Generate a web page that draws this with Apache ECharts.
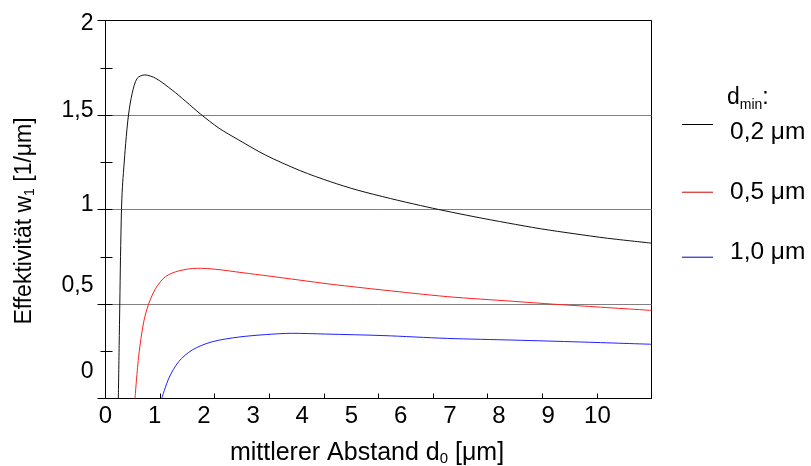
<!DOCTYPE html>
<html>
<head>
<meta charset="utf-8">
<script src="https://cdn.jsdelivr.net/npm/echarts@6/dist/echarts.min.js"></script>
<style>
html,body{margin:0;padding:0;background:#fff;}
#c{width:811px;height:466px;}
</style>
</head>
<body>
<div id="c"></div>
<script>
// ---- data ----
const blackX = [0.235, 0.25, 0.262, 0.275, 0.293, 0.31, 0.335, 0.37, 0.421, 0.489, 0.58, 0.72, 0.92, 1.22, 1.47, 1.74, 2.08, 2.44, 2.93, 3.57, 4.12, 4.61, 5.22, 5.77, 6.2, 6.75, 7.36, 7.97, 8.58, 9.19, 10.0];
const blackY = [0, 0.28, 0.5, 0.75, 1.0, 1.12, 1.22, 1.35, 1.5, 1.615, 1.694, 1.712, 1.694, 1.632, 1.572, 1.505, 1.43, 1.368, 1.288, 1.205, 1.147, 1.103, 1.058, 1.021, 0.994, 0.962, 0.929, 0.898, 0.872, 0.848, 0.822];
const redX = [0.54, 0.61, 0.70, 0.79, 0.92, 1.10, 1.34, 1.68, 2.01, 2.50, 2.99, 3.54, 4.15, 5.08, 6.26, 7.48, 8.21, 8.70, 10.0];
const redY = [0, 0.23, 0.406, 0.5, 0.583, 0.645, 0.675, 0.689, 0.684, 0.666, 0.648, 0.627, 0.604, 0.574, 0.539, 0.514, 0.499, 0.490, 0.466];
const blueX = [1.03, 1.16, 1.34, 1.59, 1.95, 2.44, 2.93, 3.42, 4.03, 5.08, 6.26, 7.48, 8.70, 10.0];
const blueY = [0, 0.107, 0.195, 0.257, 0.30, 0.325, 0.338, 0.345, 0.341, 0.333, 0.318, 0.309, 0.299, 0.287];
const seriesNames = ['0,2 μm', '0,5 μm', '1,0 μm'];
const xTickLabels = ['0','1','2','3','4','5','6','7','8','9','10'];
const yTickLabels = {0: '0', 0.5: '0,5', 1: '1', 1.5: '1,5', 2: '2'};
const xAxisTitle = 'mittlerer Abstand d{sub|0} [μm]';
const yAxisTitle = 'Effektivität w{sub|1} [1/μm]{gap| }';
const legendTitle = '{a|d}{s|min}{a|:}';

const zip = (xs, ys) => xs.map((x, i) => [x, ys[i]]);
const FONT = 'Liberation Sans, Arial, sans-serif';
const FS = 23;
const FL = 24.5;

// per-label vertical shifts (px, + = up) to mimic the reference's label placement
const yShift = {0: 27, 0.5: 18, 1: 5, 1.5: 4, 2: -3.5};
const yRich = {};
Object.keys(yShift).forEach((k, i) => {
  const d = yShift[k];
  yRich['y' + i] = {
    fontSize: FS, fontFamily: FONT, color: '#000',
    padding: d >= 0 ? [0, 0, 2 * d, 0] : [-2 * d, 0, 0, 0]
  };
});
const yKeys = Object.keys(yShift);

const chart = echarts.init(document.getElementById('c'), null, {renderer: 'canvas'});
const legendCommon = {
  orient: 'vertical', left: 682, padding: 0,
  icon: 'rect', itemWidth: 31, itemHeight: 1,
  selectedMode: false
};
chart.setOption({
  animation: false,
  backgroundColor: '#fff',
  title: {
    text: legendTitle, left: 727, top: 84, padding: 0,
    textStyle: {
      fontWeight: 'normal',
      rich: {
        a: {fontSize: FS, fontFamily: FONT, color: '#000', fontWeight: 'normal', lineHeight: 26},
        s: {fontSize: 14, fontFamily: FONT, color: '#000', fontWeight: 'normal', padding: [14, 0, 0, 0]}
      }
    }
  },
  legend: [
    Object.assign({}, legendCommon, {
      top: 104.5, data: [{name: seriesNames[0], itemStyle: {color: '#000'}}],
      formatter: '{t|{name}}',
      textStyle: {rich: {t: {fontSize: FL, fontFamily: FONT, color: '#000', lineHeight: 24, padding: [15, 0, 0, 12]}}}
    }),
    Object.assign({}, legendCommon, {
      top: 179.7, data: [{name: seriesNames[1], itemStyle: {color: '#d00000'}}],
      formatter: '{t|{name}}',
      textStyle: {rich: {t: {fontSize: FL, fontFamily: FONT, color: '#000', lineHeight: 24, padding: [0, 0, 0, 12]}}}
    }),
    Object.assign({}, legendCommon, {
      top: 239.7, data: [{name: seriesNames[2], itemStyle: {color: '#0000c0'}}],
      formatter: '{t|{name}}',
      textStyle: {rich: {t: {fontSize: FL, fontFamily: FONT, color: '#000', lineHeight: 24, padding: [0, 0, 10, 12]}}}
    })
  ],
  grid: {
    left: 105.5, top: 20.5, width: 546, height: 378,
    containLabel: false, outerBoundsMode: 'none',
    show: true, borderColor: '#000', borderWidth: 1, backgroundColor: 'transparent'
  },
  xAxis: [
    {
      type: 'value', min: 0, max: 10, interval: 1,
      axisLine: {show: true, lineStyle: {color: '#000', width: 1}},
      axisTick: {show: true, inside: true, length: 5, lineStyle: {color: '#000'}},
      axisLabel: {show: false},
      splitLine: {show: false},
      name: xAxisTitle, nameLocation: 'middle', nameGap: 41,
      nameTextStyle: {
        padding: [0, 23, 0, 0],
        rich: {sub: {fontSize: 15, fontFamily: FONT, color: '#000', padding: [12, 0, 0, 0]}},
        fontSize: 25, fontFamily: FONT, color: '#000'
      }
    },
    {
      type: 'value', min: 0, max: 11.1, interval: 1, position: 'bottom',
      axisLine: {show: false}, axisTick: {show: false}, splitLine: {show: false},
      axisLabel: {
        show: true, margin: 6, fontSize: 24, fontFamily: FONT, color: '#000',
        formatter: v => (v <= 10 && Number.isInteger(v)) ? xTickLabels[v] : ''
      }
    }
  ],
  yAxis: [
    {
      type: 'value', min: 0, max: 2, interval: 0.5,
      axisLine: {show: true, lineStyle: {color: '#000', width: 1}},
      axisTick: {show: true, inside: false, length: 8, lineStyle: {color: '#000'}},
      minorTick: {show: true, splitNumber: 2, length: 5, lineStyle: {color: '#000'}},
      axisLabel: {
        show: true, margin: 12,
        formatter: v => {
          const i = yKeys.indexOf(String(v));
          return i >= 0 ? '{y' + i + '|' + yTickLabels[v] + '}' : '';
        },
        rich: yRich
      },
      splitLine: {show: true, lineStyle: {color: ['#000', '#808080', '#808080', '#808080', '#000'], width: 1}},
      name: yAxisTitle, nameLocation: 'middle', nameGap: 68, nameRotate: 90,
      nameTextStyle: {
        rich: {
          sub: {fontSize: 14, fontFamily: FONT, color: '#000', padding: [12, 0, 0, 0]},
          gap: {width: 23, fontSize: FS}
        },
        fontSize: FS, fontFamily: FONT, color: '#000'
      }
    },
    {
      type: 'value', min: 0, max: 2, interval: 0.25, position: 'left',
      axisLine: {show: false}, axisLabel: {show: false}, splitLine: {show: false},
      axisTick: {show: true, inside: true, length: 7, lineStyle: {color: '#000'}}
    }
  ],
  series: [
    {name: seriesNames[0], type: 'line', data: zip(blackX, blackY), showSymbol: false, smooth: 0.3,
     lineStyle: {color: '#111', width: 1}, itemStyle: {color: '#000'}, xAxisIndex: 0, yAxisIndex: 0, clip: true},
    {name: seriesNames[1], type: 'line', data: zip(redX, redY), showSymbol: false, smooth: 0.3,
     lineStyle: {color: '#ff2020', width: 1}, itemStyle: {color: '#d00000'}, xAxisIndex: 0, yAxisIndex: 0, clip: true},
    {name: seriesNames[2], type: 'line', data: zip(blueX, blueY), showSymbol: false, smooth: 0.3,
     lineStyle: {color: '#2020ff', width: 1}, itemStyle: {color: '#0000c0'}, xAxisIndex: 0, yAxisIndex: 0, clip: true}
  ]
});
</script>
</body>
</html>
